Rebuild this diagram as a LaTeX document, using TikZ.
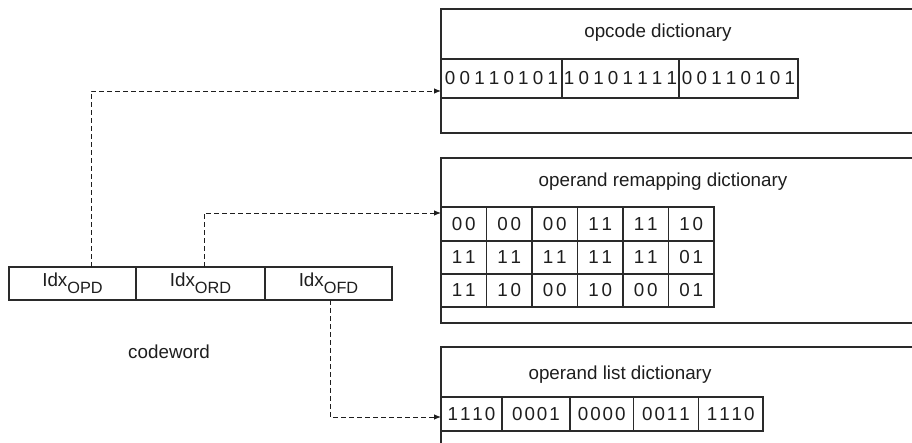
\documentclass[tikz,border=0pt]{standalone}
\usepackage{fontspec}
\setmainfont{Liberation Sans}
\usetikzlibrary{arrows.meta,calc}

% letter-spaced digit strings: \lsp{kern}{digits}
\makeatletter
\newcommand\lsp[2]{\def\lsp@k{#1}\lsp@a#2\relax}
\def\lsp@a#1{\ifx#1\relax\unkern\else#1\kern\lsp@k\relax\expandafter\lsp@a\fi}
% same, with the digits given by a macro
\newcommand\lspv[2]{\edef\lsp@t{\noexpand\lsp{#1}{#2}}\lsp@t}
\makeatother
% lowered, slightly smaller index suffix
\newcommand\idxsub[1]{\raisebox{-6.5pt}{\fontsize{16.3pt}{18pt}\selectfont #1}}

\definecolor{ink}{HTML}{1E1E1E}
\definecolor{rule}{HTML}{2A2A2A}

\tikzset{
  txt/.style={font=\fontsize{18.8pt}{20pt}\selectfont, text=ink, inner sep=0pt},
  cell/.style={txt, draw=rule, line width=1.1pt, anchor=north west,
               inner sep=0pt, outer sep=0pt},
  dictbox/.style={draw=rule, line width=1.1pt, anchor=north west,
                  minimum width=520pt, inner sep=0pt, outer sep=0pt},
  link/.style={draw=ink, line width=0.9pt, dash pattern=on 5pt off 3pt,
               -{Latex[length=7pt,width=5.5pt]}},
}

\begin{document}
\begin{tikzpicture}[x=1pt,y=-1pt]
\useasboundingbox (0,0) rectangle (912,443);
\clip (0,0) rectangle (912,443);
\fill[white] (0,0) rectangle (912,443);

% ---- dictionaries (they run past the right edge) ----
\node[dictbox, minimum height=124pt] (opd) at (441,9) {};
\node[txt] (opdl) at (658,33) {opcode dictionary};
\node[cell, minimum width=121pt, minimum height=39pt] (op1) at (441,59) {\lsp{4.2pt}{00110101}};
\node[cell, minimum width=117pt, minimum height=39pt] (op2) at (562,59) {\lsp{4.2pt}{10101111}};
\node[cell, minimum width=119pt, minimum height=39pt] (op3) at (679,59) {\lsp{4.2pt}{00110101}};

\node[dictbox, minimum height=165pt] (rmd) at (441,158) {};
\node[txt] (rmdl) at (663,182) {operand remapping dictionary};
\foreach \row/\y/\h/\vals in {1/207/34/{00,00,00,11,11,10},
                              2/241/33/{11,11,11,11,11,01},
                              3/274/33/{11,10,00,10,00,01}}{
  \foreach \v [count=\c, evaluate=\c as \x using {441+(\c-1)*45.5}] in \vals {
    \node[cell, minimum width=45.5pt, minimum height=\h pt] (rm\row\c) at (\x,\y) {\lspv{3pt}{\v}};
  }
}

\node[dictbox, minimum height=150pt] (lsd) at (441,347) {};
\node[txt] (lsdl) at (620,375) {operand list dictionary};
\node[cell, minimum width=61pt,   minimum height=34pt] (ls1) at (441,397)   {\lsp{2pt}{1110}};
\node[cell, minimum width=68pt,   minimum height=34pt] (ls2) at (502,397)   {\lsp{2pt}{0001}};
\node[cell, minimum width=63.5pt, minimum height=34pt] (ls3) at (570,397)   {\lsp{2pt}{0000}};
\node[cell, minimum width=65pt,   minimum height=34pt] (ls4) at (633.5,397) {\lsp{2pt}{0011}};
\node[cell, minimum width=64.5pt, minimum height=34pt] (ls5) at (698.5,397) {\lsp{2pt}{1110}};

% ---- codeword ----
\node[cell, minimum width=127pt, minimum height=33pt] (cw1) at (9,267)   {Idx\idxsub{OPD}};
\node[cell, minimum width=129pt, minimum height=33pt] (cw2) at (136,267) {Idx\idxsub{ORD}};
\node[cell, minimum width=127pt, minimum height=33pt] (cw3) at (265,267) {Idx\idxsub{OFD}};
\node[txt] (cwl) at (169,352) {codeword};

% ---- index links ----
\draw[link] ($(cw1.north west)+(82,0)$) |- ($(op1.north west)+(0,32)$);
\draw[link] ($(cw2.north west)+(68,0)$) |- ($(rm11.north west)+(0,6)$);
\draw[link] ($(cw3.south west)+(65,0)$) |- ($(ls1.north west)+(0,20)$);
\end{tikzpicture}
\end{document}
